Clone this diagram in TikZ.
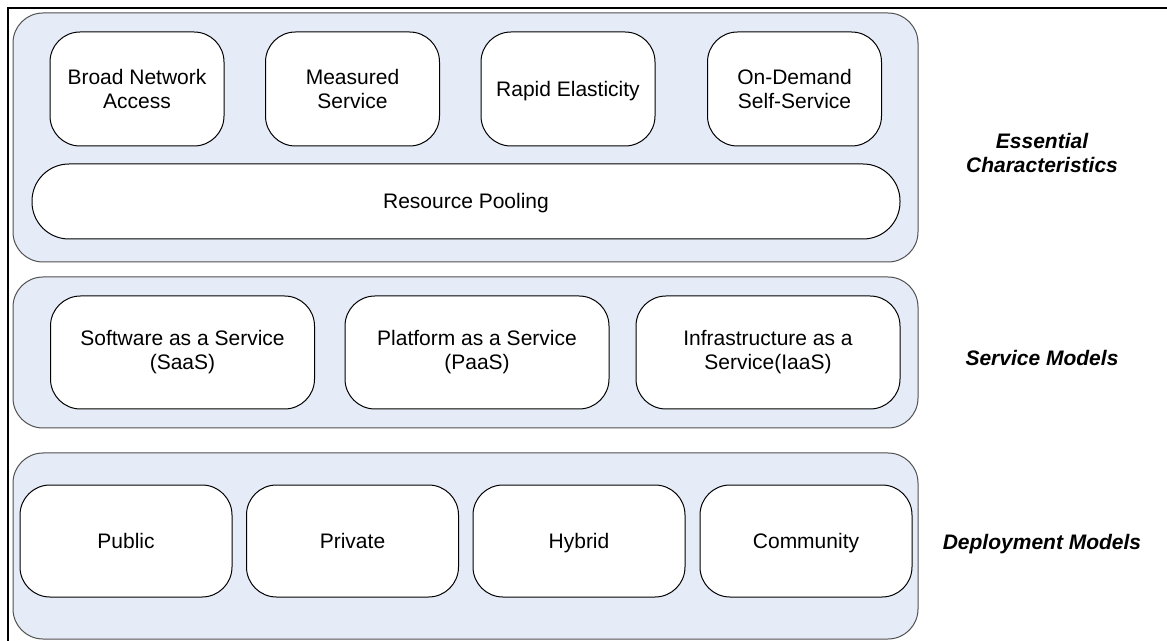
\documentclass[tikz,border=0pt]{standalone}
\usepackage{fontspec}
\setmainfont{Liberation Sans}
\usepackage{tikz}
\usetikzlibrary{scopes}
\pgfdeclarelayer{background layer}
\pgfsetlayers{background layer,main}
\definecolor{panelfill}{RGB}{230,236,247}
\definecolor{panelline}{RGB}{80,80,80}

\begin{document}
\begin{tikzpicture}[
    x=0.5pt,y=-0.5pt,
    every node/.style={font=\fontsize{10.5}{12}\selectfont,align=center,inner sep=0pt},
    oneline/.style={text height=7.5pt,text depth=0pt},
    panel/.style={rectangle,rounded corners=15pt,draw=panelline,fill=panelfill,line width=0.5pt,minimum width=452.5pt},
    item/.style={rectangle,rounded corners=15pt,draw=black,fill=white,line width=0.5pt},
    ec/.style={item,minimum width=87pt,minimum height=57pt},
    sm/.style={item,minimum width=132pt,minimum height=56.5pt},
    dm/.style={item,oneline,minimum width=106pt,minimum height=56pt},
    tag/.style={font=\fontsize{10.5}{12}\selectfont\bfseries\itshape},
]
    \useasboundingbox (0,0) rectangle (1167,641);
    \draw[line width=1pt] (1167,8) -- (8,8) -- (8,641);

\begin{pgfonlayer}{background layer}
    \node[panel,minimum height=124.5pt] (ess) at (465.5,137.5) {};
    \node[panel,minimum height=75.5pt] (svc) at (465.5,352.5) {};
    \node[panel,minimum height=93pt] (dep) at (465.5,546) {};
\end{pgfonlayer}

    % essential characteristics
    \node[ec] (bna) at (137,89) {Broad Network\\Access};
    \node[ec] (ms) at (352.5,89) {Measured\\Service};
    \node[ec,oneline] (re) at (568,89) {Rapid Elasticity};
    \node[ec] (od) at (794.5,89) {On-Demand\\Self-Service};
    \node[item,oneline,rounded corners=18.5pt,minimum width=434pt,minimum height=37.5pt] (rp) at (466,201.5) {Resource Pooling};

    % service models
    \node[sm] (saas) at (182.5,352.5) {Software as a Service\\(SaaS)};
    \node[sm] (paas) at (477,352.5) {Platform as a Service\\(PaaS)};
    \node[sm] (iaas) at (768,352.5) {Infrastructure as a\\Service(IaaS)};

    % deployment models
    \node[dm] (pub) at (126,541) {Public};
    \node[dm] (priv) at (352.5,541) {Private};
    \node[dm] (hyb) at (579,541) {Hybrid};
    \node[dm] (com) at (806,541) {Community};

    \node[tag] (esstag) at (1042,153) {Essential\\Characteristics};
    \node[tag,oneline] (svctag) at (1042,358) {Service Models};
    \node[tag,oneline] (deptag) at (1042,542) {Deployment Models};
\end{tikzpicture}
\end{document}
